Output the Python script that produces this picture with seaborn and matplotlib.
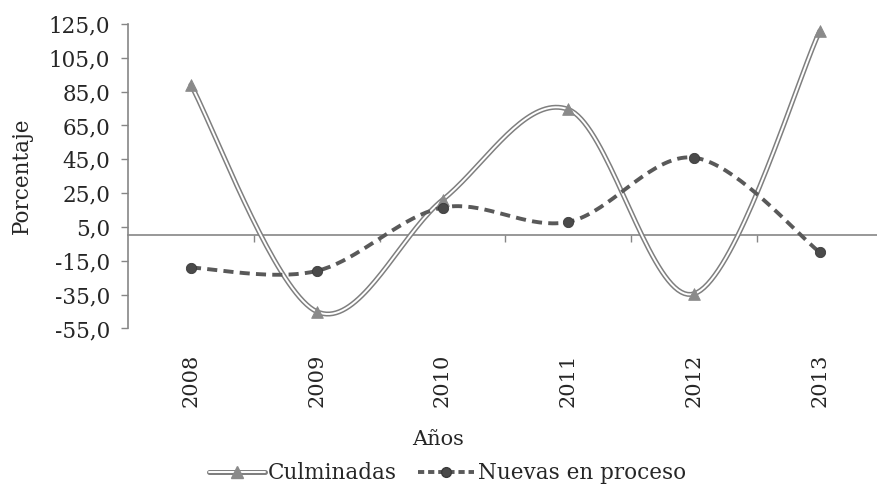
import numpy as np
import pandas as pd
import seaborn as sns
import matplotlib.pyplot as plt
from matplotlib.lines import Line2D
from matplotlib.legend_handler import HandlerTuple

years = ['2008', '2009', '2010', '2011', '2012', '2013']
culminadas = [89, -45, 21, 74.5, -34.5, 121]
nuevas = [-19, -21, 16.5, 8, 46, -10]
yticks = [-55, -35, -15, 5, 25, 45, 65, 85, 105, 125]

sns.set_style('white')
plt.rcParams['font.family'] = ['DejaVu Serif']


def smooth(vals, n=40):
    # suavizado tipo Excel (Bezier con puntos de control Catmull-Rom)
    x = np.arange(len(vals), dtype=float)
    y = np.asarray(vals, dtype=float)
    px = np.concatenate([[x[0]], x, [x[-1]]])
    py = np.concatenate([[y[0]], y, [y[-1]]])
    xs, ys = [], []
    t = np.linspace(0, 1, n)
    for i in range(len(x) - 1):
        p0 = np.array([px[i + 1], py[i + 1]])
        p3 = np.array([px[i + 2], py[i + 2]])
        c1 = p0 + (np.array([px[i + 2], py[i + 2]]) - np.array([px[i], py[i]])) / 6
        c2 = p3 - (np.array([px[i + 3], py[i + 3]]) - np.array([px[i + 1], py[i + 1]])) / 6
        b = ((1 - t) ** 3)[:, None] * p0 + (3 * (1 - t) ** 2 * t)[:, None] * c1 \
            + (3 * (1 - t) * t ** 2)[:, None] * c2 + (t ** 3)[:, None] * p3
        xs.extend(b[:, 0]); ys.extend(b[:, 1])
    return pd.DataFrame({'x': xs, 'y': ys})


pts = pd.DataFrame({'x': np.arange(len(years)), 'c': culminadas, 'n': nuevas})
sc = smooth(culminadas)
sn = smooth(nuevas)

fig = plt.figure(figsize=(8.77, 4.87), dpi=100)
ax = fig.add_axes([0.146, 0.3255, 0.854, 0.6252])

gray = '#7f7f7f'
dark = '#595959'

# Culminadas: doble linea
sns.lineplot(data=sc, x='x', y='y', sort=False, color=gray, lw=3.6, ax=ax, zorder=3)
sns.lineplot(data=sc, x='x', y='y', sort=False, color='white', lw=1.4, ax=ax, zorder=4)
sns.scatterplot(data=pts, x='x', y='c', marker='^', s=70, color='#8a8a8a',
                edgecolor='#8a8a8a', ax=ax, zorder=5)

# Nuevas en proceso: discontinua
sns.lineplot(data=sn, x='x', y='y', sort=False, color=dark, lw=2.8, ax=ax, zorder=6)
ax.lines[-1].set_dashes([2.6, 1.6])
sns.scatterplot(data=pts, x='x', y='n', marker='o', s=55, color='#4a4a4a',
                edgecolor='#3a3a3a', ax=ax, zorder=7)

ax.set_xlim(-0.5, 5.454)
ax.set_ylim(-55, 125)
ax.set_yticks(yticks)
ax.set_yticklabels([f'{v:.1f}'.replace('.', ',') for v in yticks], fontsize=15.5)
ax.tick_params(axis='y', direction='out', length=5, width=1, color='#868686',
               left=True, pad=8)

for s in ['top', 'right']:
    ax.spines[s].set_visible(False)
ax.spines['left'].set_color('#868686')
ax.spines['left'].set_linewidth(1.2)
ax.spines['bottom'].set_position(('data', 0))
ax.spines['bottom'].set_color('#868686')
ax.spines['bottom'].set_linewidth(1.2)
ax.set_xticks(np.arange(0.5, 5.5, 1))
ax.set_xticklabels([])
ax.tick_params(axis='x', direction='out', length=5, width=1, color='#868686', bottom=True)

sec = ax.secondary_xaxis('bottom')
sec.set_xticks(range(len(years)))
sec.set_xticklabels(years, rotation=90, fontsize=15)
sec.spines['bottom'].set_visible(False)
sec.tick_params(length=0, pad=18)

ax.set_xlabel('')
ax.set_ylabel('Porcentaje', fontsize=15.5)
ax.yaxis.set_label_coords(-0.127, 0.5)

fig.text(0.5, 0.097, 'Años', ha='center', va='center', fontsize=15)

h_c = (Line2D([], [], color=gray, lw=3.6),
       Line2D([], [], color='white', lw=1.4),
       Line2D([], [], ls='none', marker='^', ms=8, color='#8a8a8a'))
h_n = Line2D([], [], color=dark, lw=2.8, dashes=[1.6, 1.0], marker='o', ms=7,
             markerfacecolor='#4a4a4a', markeredgecolor='#3a3a3a')
fig.legend([h_c, h_n], ['Culminadas', 'Nuevas en proceso'],
           handler_map={tuple: HandlerTuple(ndivide=1)},
           loc='center', bbox_to_anchor=(0.51, 0.028), ncol=2, frameon=False,
           fontsize=15.5, handlelength=2.6, handletextpad=0.15, columnspacing=1.0,
           borderpad=0)

fig.savefig('out.png', dpi=100)
